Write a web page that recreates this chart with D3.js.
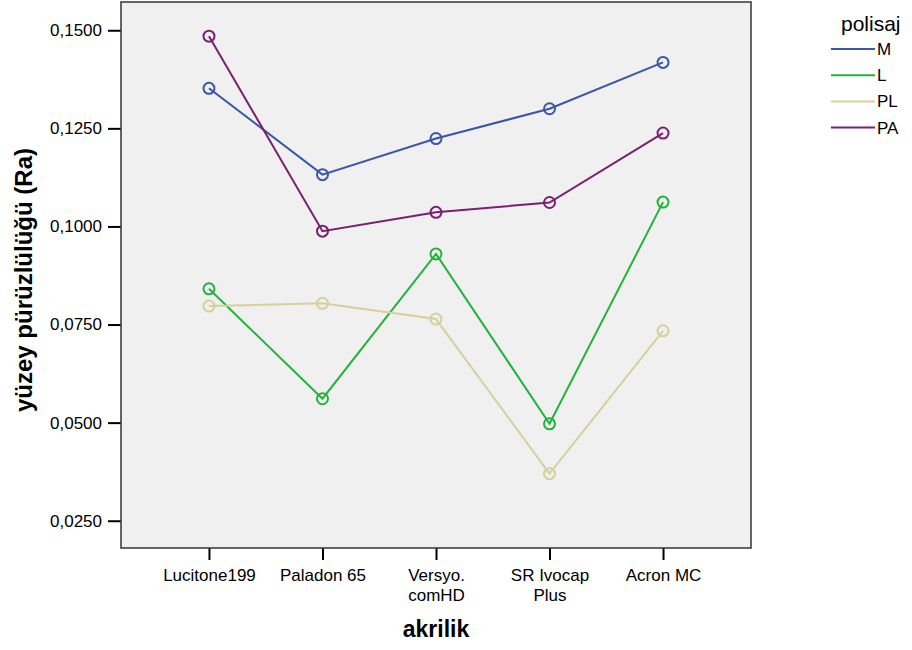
<!DOCTYPE html>
<html>
<head>
<meta charset="utf-8">
<script src="https://cdn.jsdelivr.net/npm/d3@7"></script>
<style>
  body { margin: 0; background: #fff; }
  text { font-family: "Liberation Sans", Arial, sans-serif; }
</style>
</head>
<body>
<div id="chart"></div>
<script>
// categories on x (akrilik)
var categories = [
    ['Lucitone199'],
    ['Paladon 65'],
    ['Versyo.', 'comHD'],
    ['SR Ivocap', 'Plus'],
    ['Acron MC']
];
var seriesNames = ['M', 'L', 'PL', 'PA'];
var seriesColors = ['#3a56a8', '#22b33c', '#d6d09b', '#7b1f70'];

// mean Ra values per series
var valuesM  = [0.1352, 0.1132, 0.1224, 0.1300, 0.1418];
var valuesL  = [0.0841, 0.0561, 0.0930, 0.0497, 0.1062];
var valuesPL = [0.0797, 0.0804, 0.0764, 0.0370, 0.0734];
var valuesPA = [0.1485, 0.0988, 0.1036, 0.1061, 0.1238];

var yTicks = [0.025, 0.05, 0.075, 0.1, 0.125, 0.15];

var fig = {
    width: 912,
    height: 650,
    margin: { top: 2, right: 161, bottom: 102, left: 121 },
    svg: null,
    chart: null,
    x: null,
    y: null,

    init: function() {
        this.svg = d3.select('#chart').append('svg')
            .attr('width', this.width)
            .attr('height', this.height);
        this.w = this.width - this.margin.left - this.margin.right;
        this.h = this.height - this.margin.top - this.margin.bottom;
        this.chart = this.svg.append('g')
            .attr('transform', 'translate(' + this.margin.left + ',' + this.margin.top + ')');

        this.x = d3.scalePoint()
            .domain(d3.range(categories.length))
            .range([0, this.w])
            .padding(0.775);
        this.y = d3.scaleLinear()
            .domain([0.01805, 0.1572])
            .range([this.h, 0]);
    },

    draw: function() {
        var self = this;
        var series = [valuesM, valuesL, valuesPL, valuesPA];

        // background
        this.chart.append('rect')
            .attr('width', this.w)
            .attr('height', this.h)
            .attr('fill', '#f0f0f0');

        // axes
        var yAxis = d3.axisLeft(this.y)
            .tickValues(yTicks)
            .tickSize(13)
            .tickPadding(6)
            .tickFormat(function(d) { return d3.format('.4f')(d).replace('.', ','); });
        var gy = this.chart.append('g').call(yAxis);
        gy.select('.domain').remove();
        gy.selectAll('text').attr('font-size', 17).attr('fill', '#000');
        gy.selectAll('line').attr('stroke', '#000').attr('stroke-width', 2);

        var xAxis = d3.axisBottom(this.x).tickSize(12).tickFormat('');
        var gx = this.chart.append('g')
            .attr('transform', 'translate(0,' + this.h + ')')
            .call(xAxis);
        gx.select('.domain').remove();
        gx.selectAll('line').attr('stroke', '#000').attr('stroke-width', 2);
        gx.selectAll('.tick').each(function(d) {
            var t = d3.select(this).append('text')
                .attr('text-anchor', 'middle')
                .attr('font-size', 17)
                .attr('fill', '#000');
            categories[d].forEach(function(line, i) {
                t.append('tspan').attr('x', 0).attr('y', 33 + i * 20).text(line);
            });
        });

        // frame
        this.chart.append('rect')
            .attr('width', this.w)
            .attr('height', this.h)
            .attr('fill', 'none')
            .attr('stroke', '#333')
            .attr('stroke-width', 1.5);

        // lines and markers
        var line = d3.line()
            .x(function(d, i) { return self.x(i); })
            .y(function(d) { return self.y(d); });
        series.forEach(function(vals, s) {
            var g = self.chart.append('g');
            g.append('path')
                .attr('d', line(vals))
                .attr('fill', 'none')
                .attr('stroke', seriesColors[s])
                .attr('stroke-width', 2);
            g.selectAll('circle')
                .data(vals)
                .enter()
                .append('circle')
                .attr('cx', function(d, i) { return self.x(i); })
                .attr('cy', function(d) { return self.y(d); })
                .attr('r', 5.5)
                .attr('fill', 'none')
                .attr('stroke', seriesColors[s])
                .attr('stroke-width', 2);
        });

        // axis titles
        this.svg.append('text')
            .attr('x', this.margin.left + this.w / 2)
            .attr('y', 637)
            .attr('text-anchor', 'middle')
            .attr('font-size', 23)
            .attr('font-weight', 'bold')
            .text('akrilik');
        this.svg.append('text')
            .attr('transform', 'translate(32,280) rotate(-90)')
            .attr('text-anchor', 'middle')
            .attr('font-size', 24)
            .attr('font-weight', 'bold')
            .text('yüzey pürüzlülüğü (Ra)');

        // legend
        var lg = this.svg.append('g');
        lg.append('text')
            .attr('x', 841)
            .attr('y', 31)
            .attr('font-size', 21)
            .text('polisaj');
        seriesNames.forEach(function(name, i) {
            var yy = 49 + i * 26.2;
            lg.append('line')
                .attr('x1', 831).attr('x2', 875)
                .attr('y1', yy).attr('y2', yy)
                .attr('stroke', seriesColors[i])
                .attr('stroke-width', 2);
            lg.append('text')
                .attr('x', 877)
                .attr('y', yy + 6)
                .attr('font-size', 17)
                .text(name);
        });
    }
};

fig.init();
fig.draw();
</script>
</body>
</html>
